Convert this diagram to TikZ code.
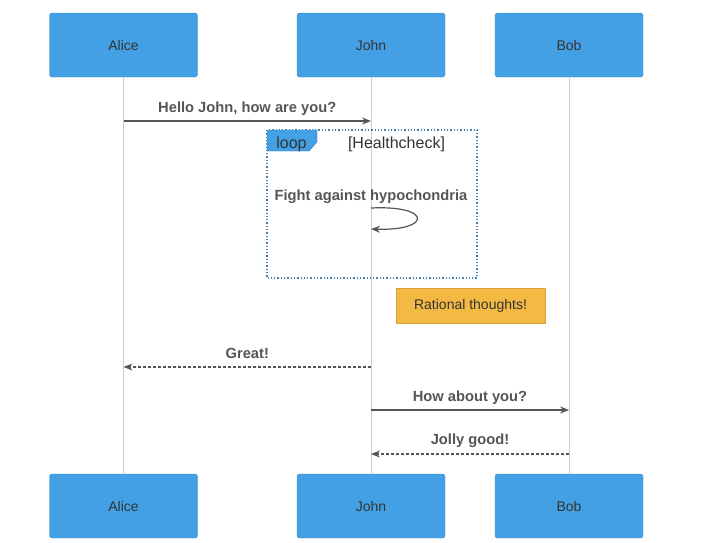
\documentclass[tikz,border=0pt]{standalone}
\usepackage{fontspec}
\setmainfont{Liberation Sans}
\usetikzlibrary{arrows.meta}

\definecolor{actorblue}{RGB}{68,160,228}
\definecolor{actoredge}{RGB}{58,140,205}
\definecolor{inkgray}{RGB}{51,51,51}
\definecolor{linegray}{RGB}{85,85,85}
\definecolor{lifegray}{RGB}{204,204,204}
\definecolor{notefill}{RGB}{244,185,66}
\definecolor{noteedge}{RGB}{214,164,58}
\definecolor{loopblue}{RGB}{63,127,181}

\tikzstyle{actor} = [draw=actoredge, fill=actorblue, rounded corners=2.5pt, minimum width=148, minimum height=64, text=inkgray, font=\fontsize{14}{16}\selectfont]
\tikzstyle{life} = [draw=lifegray, line width=0.9]
\tikzstyle{msg} = [draw=linegray, line width=1.2, -{Stealth[length=9,width=7]}]
\tikzstyle{reply} = [msg, dash pattern=on 3 off 2]
\tikzstyle{said} = [text=linegray, font=\fontsize{14.7}{17}\selectfont\bfseries]
\tikzstyle{note} = [draw=noteedge, fill=notefill, minimum width=149, minimum height=35, text=inkgray, font=\fontsize{14}{16}\selectfont]

\begin{document}
\begin{tikzpicture}[x=1pt, y=-1pt]
        \useasboundingbox (0,0) rectangle (701,542);
        % actors
        \node[actor] (alice) at (123.5,45) {Alice};
        \node[actor] (john) at (371,45) {John};
        \node[actor] (bob) at (569,45) {Bob};
        \node[actor] (aliceB) at (123.5,506) {Alice};
        \node[actor] (johnB) at (371,506) {John};
        \node[actor] (bobB) at (569,506) {Bob};
        \draw[life] (alice) -- (aliceB);
        \draw[life] (john) -- (johnB);
        \draw[life] (bob) -- (bobB);

        % loop frame
        \draw[loopblue, line width=1.3, dotted] (267,130) rectangle (477,278);
        \filldraw[draw=loopblue, fill=actorblue] (267,130) -- (317,130) -- (317,142) -- (309,151) -- (267,151) -- cycle;
        \node[text=inkgray, font=\fontsize{16}{18}\selectfont] (looptag) at (291.5,144) {loop};
        \node[text=inkgray, font=\fontsize{16}{18}\selectfont] (loopcond) at (396.5,144) {[Healthcheck]};

        % points on the lifelines
        \coordinate (a1) at (alice |- 0,121);
        \coordinate (j1) at (john |- 0,121);
        \coordinate (j2) at (john |- 0,208);
        \coordinate (j3) at (john |- 0,229);
        \coordinate (a4) at (alice |- 0,367);
        \coordinate (j4) at (john |- 0,367);
        \coordinate (j5) at (john |- 0,410);
        \coordinate (b5) at (bob |- 0,410);
        \coordinate (j6) at (john |- 0,454);
        \coordinate (b6) at (bob |- 0,454);

        % messages
        \draw[msg] (a1) -- node[said, yshift=12] {Hello John, how are you?} (j1);
        \node[said] (fight) at (371,197) {Fight against hypochondria};
        \draw[msg] (j2) .. controls (432,205) and (432,231) .. (j3);
        \node[note] (thoughts) at (470.5,305.5) {Rational thoughts!};
        \draw[reply] (j4) -- node[said, yshift=14] {Great!} (a4);
        \draw[msg] (j5) -- node[said, yshift=12] {How about you?} (b5);
        \draw[reply] (b6) -- node[said, yshift=13] {Jolly good!} (j6);
\end{tikzpicture}
\end{document}
